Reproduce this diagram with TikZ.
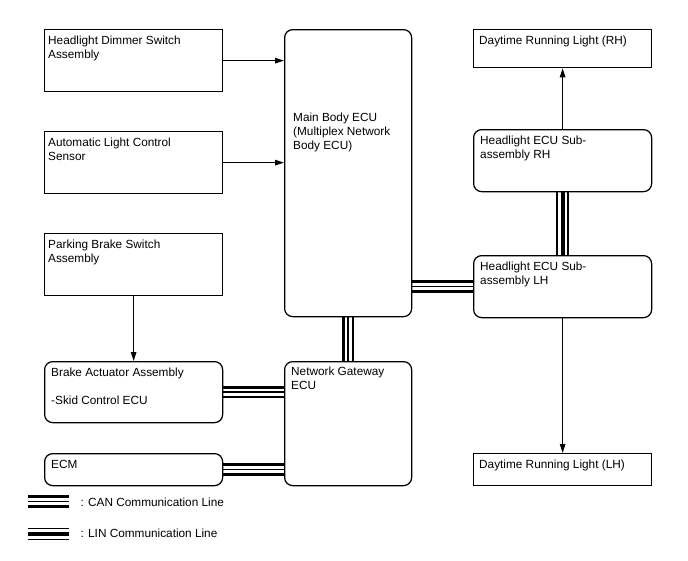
\documentclass[tikz,border=0pt]{standalone}
\usepackage{fontspec}
\setmainfont{Liberation Sans}
\usetikzlibrary{arrows.meta,calc,backgrounds}
\begin{document}
\begin{tikzpicture}[x=1pt,y=-1pt,
 every node/.style={font=\fontsize{11.8}{14}\selectfont},
 box/.style={draw,line width=1.25pt,inner sep=0pt,anchor=north west,minimum width=178pt},
 rbox/.style={box,rounded corners=8pt},
 tl/.style={anchor=north west,align=left,inner xsep=4pt,inner ysep=7pt},
 rtl/.style={tl,inner xsep=7pt},
 arr/.style={line width=1.1pt,-{Triangle[length=9pt,width=5.5pt]}},
 can/.style={line width=1.5pt,preaction={draw,line width=12.5pt},preaction={draw,white,line width=7pt}},
 lin/.style={line width=4pt,preaction={draw,line width=12.5pt},preaction={draw,white,line width=9.5pt}},
]
\useasboundingbox (0,0) rectangle (688,560);
% left column
\node[box,minimum height=62pt,label={[tl]north west:Headlight Dimmer Switch\\Assembly}] (dim) at (44,29) {};
\node[box,minimum height=62pt,label={[tl]north west:Automatic Light Control\\Sensor}] (alc) at (44,131) {};
\node[box,minimum height=62pt,label={[tl]north west:Parking Brake Switch\\Assembly}] (pbs) at (44,233) {};
\node[rbox,minimum height=61pt,label={[rtl]north west:Brake Actuator Assembly\\[14pt]-Skid Control ECU}] (brk) at (44,361) {};
\node[rbox,minimum height=32pt,label={[rtl]north west:ECM}] (ecm) at (44,453) {};
% middle column
\node[rbox,minimum width=127pt,minimum height=287pt] (main) at (284,29) {};
\node[anchor=north west,align=left,inner sep=0pt] (maintxt) at (293,112.5) {Main Body ECU\\(Multiplex Network\\Body ECU)};
\node[rbox,minimum width=127pt,minimum height=124pt,label={[rtl,inner ysep=5.5pt]north west:Network Gateway\\ECU}] (gw) at (284,361) {};
% right column
\node[box,minimum height=38pt,label={[tl,inner xsep=6pt]north west:Daytime Running Light (RH)}] (drlr) at (473,29) {};
\node[rbox,minimum height=62pt,label={[rtl]north west:Headlight ECU Sub-\\assembly RH}] (hrh) at (473,129) {};
\node[rbox,minimum height=62pt,label={[rtl]north west:Headlight ECU Sub-\\assembly LH}] (hlh) at (473,255) {};
\node[box,minimum height=32pt,label={[tl,inner xsep=6pt]north west:Daytime Running Light (LH)}] (drll) at (473,453) {};
% arrows
\draw[arr] (dim.east) -- (main.west |- dim.east);
\draw[arr] (alc.east) -- (main.west |- alc.east);
\draw[arr] (pbs.south) -- (brk.north);
\draw[arr] (hrh.north) -- (drlr.south);
\draw[arr] (hlh.south) -- (drll.north);
% bus lines
\begin{scope}[on background layer]
\draw[can] (hlh.west) -- (main.east |- hlh.west);
\draw[can] (main.south) -- (gw.north);
\draw[can] (brk.east) -- (gw.west |- brk.east);
\draw[can] (ecm.east) -- (gw.west |- ecm.east);
\draw[lin] (hrh.south) -- (hlh.north);
\end{scope}
% legend
\coordinate (ca) at (28,501.5);
\coordinate (cb) at (69,501.5);
\draw[can] (ca) -- (cb);
\node[anchor=west] (cant) at (77,502.5) {: CAN Communication Line};
\coordinate (la) at (28,534);
\coordinate (lb) at (69,534);
\draw[lin] (la) -- (lb);
\node[anchor=west] (lint) at (77,533) {: LIN Communication Line};
\end{tikzpicture}
\end{document}
